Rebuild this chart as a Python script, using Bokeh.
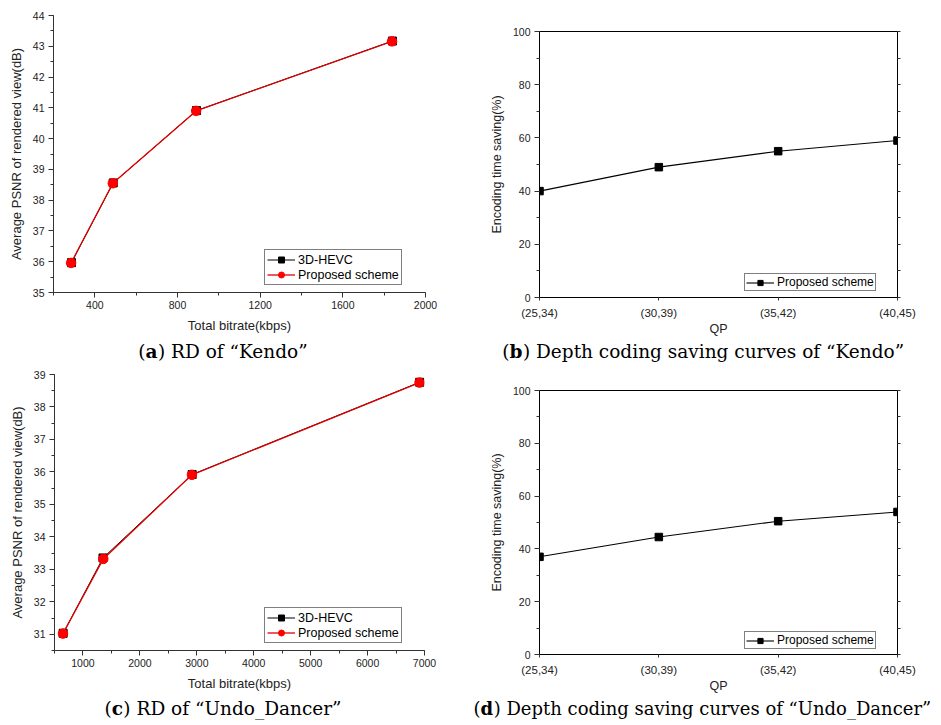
from bokeh.plotting import figure
from bokeh.layouts import column, row
from bokeh.models import (Range1d, SingleIntervalTicker, FixedTicker, LinearAxis,
                          Legend, CustomJSTickFormatter)
from bokeh.core.properties import value
from bokeh.embed import file_html
from bokeh.resources import INLINE

# ---- data -------------------------------------------------------------
# RD curves, "Kendo"
kendo_rate_hevc = [287, 489, 892, 1840]
kendo_psnr_hevc = [35.97, 38.56, 40.91, 43.17]
kendo_rate_prop = [285, 487, 890, 1838]
kendo_psnr_prop = [35.96, 38.55, 40.90, 43.16]

# RD curves, "Undo_Dancer"
undo_rate_hevc = [652, 1352, 2918, 6915]
undo_psnr_hevc = [31.03, 33.35, 35.92, 38.76]
undo_rate_prop = [649, 1357, 2914, 6912]
undo_psnr_prop = [31.02, 33.32, 35.91, 38.75]

# depth coding time saving (%)
qp_pairs = ["(25,34)", "(30,39)", "(35,42)", "(40,45)"]
kendo_saving = [40, 49, 55, 59]
undo_saving = [37, 44.5, 50.5, 54]

SANS = "Liberation Sans"
SERIF = "DejaVu Serif"
AXIS_COLOR = "#333333"
TEXT_COLOR = "#222222"


def base_axes(p, label_size):
    for ax in p.xaxis + p.yaxis:
        ax.axis_line_color = AXIS_COLOR
        ax.major_tick_line_color = AXIS_COLOR
        ax.minor_tick_line_color = AXIS_COLOR
        ax.major_tick_out = 5
        ax.major_tick_in = 0
        ax.minor_tick_out = 3
        ax.minor_tick_in = 0
        ax.major_label_text_font = SANS
        ax.major_label_text_font_size = "10.5px"
        ax.major_label_text_color = TEXT_COLOR
        ax.major_label_standoff = 4
        ax.axis_label_text_font = SANS
        ax.axis_label_text_font_size = label_size
        ax.axis_label_text_font_style = "normal"
        ax.axis_label_text_color = TEXT_COLOR
        ax.axis_label_standoff = 6


def legend_style(lg, font_size, row_h):
    lg.border_line_color = "black"
    lg.border_line_width = 1
    lg.background_fill_alpha = 1
    lg.label_text_font = SANS
    lg.label_text_font_size = font_size
    lg.label_text_color = "black"
    lg.label_height = row_h
    lg.glyph_height = row_h
    lg.glyph_width = 28
    lg.label_standoff = 3
    lg.spacing = 0
    lg.padding = 2
    lg.margin = 0


def rd_figure(w, h, borders, xr, yr, xint, yint,
              rate_h, psnr_h, rate_p, psnr_p, legend_loc):
    left, right, top, bottom = borders
    p = figure(width=w, height=h, x_range=Range1d(*xr), y_range=Range1d(*yr),
               output_backend="svg", toolbar_location=None,
               min_border_left=left, min_border_right=right,
               min_border_top=top, min_border_bottom=bottom)
    p.outline_line_color = None
    p.grid.visible = False
    p.xaxis.ticker = SingleIntervalTicker(interval=xint, num_minor_ticks=2)
    p.yaxis.ticker = SingleIntervalTicker(interval=yint, num_minor_ticks=2)
    p.xaxis.axis_label = "Total bitrate(kbps)"
    p.yaxis.axis_label = "Average PSNR of rendered view(dB)"
    base_axes(p, "13px")
    p.xaxis.major_label_standoff = 3

    l1 = p.line(rate_h, psnr_h, line_color="black", line_width=1.0)
    m1 = p.scatter(rate_h, psnr_h, marker="square", size=8, color="black")
    l2 = p.line(rate_p, psnr_p, line_color="#e00000", line_width=1.3)
    m2 = p.scatter(rate_p, psnr_p, marker="circle", size=9.5, color="#ff0000")

    lg = Legend(items=[("3D-HEVC", [l1, m1]), ("Proposed scheme", [l2, m2])],
                location=legend_loc)
    legend_style(lg, "12.5px", 15)
    p.add_layout(lg)
    return p


def saving_figure(w, h, borders, values, legend_loc):
    left, right, top, bottom = borders
    p = figure(width=w, height=h, x_range=Range1d(0, 3), y_range=Range1d(0, 100),
               output_backend="svg", toolbar_location=None,
               min_border_left=left, min_border_right=right,
               min_border_top=top, min_border_bottom=bottom)
    p.outline_line_color = "black"
    p.outline_line_width = 1
    p.grid.visible = False
    p.xaxis.ticker = FixedTicker(ticks=list(range(len(qp_pairs))), minor_ticks=[])
    p.xaxis.major_label_overrides = {i: s for i, s in enumerate(qp_pairs)}
    p.yaxis.ticker = SingleIntervalTicker(interval=20, num_minor_ticks=2)
    p.xaxis.axis_label = "QP"
    p.yaxis.axis_label = "Encoding time saving(%)"
    base_axes(p, "12.5px")
    p.xaxis.major_label_text_font_size = "11.5px"
    p.xaxis.major_tick_out = 3
    p.xaxis.major_label_standoff = 6
    p.xaxis.axis_label_standoff = 0
    for ax in p.xaxis + p.yaxis:
        ax.axis_line_color = "black"

    # unlabeled tick marks along the right edge
    rax = LinearAxis(ticker=SingleIntervalTicker(interval=10, num_minor_ticks=0),
                     formatter=CustomJSTickFormatter(code="return ''"))
    rax.axis_line_color = "black"
    rax.major_tick_out = 3
    rax.major_tick_in = 0
    rax.major_tick_line_color = AXIS_COLOR
    rax.minor_tick_line_color = None
    rax.major_label_text_font_size = "1px"
    p.add_layout(rax, "right")

    xs = list(range(len(values)))
    l1 = p.line(xs, values, line_color="black", line_width=1.1)
    m1 = p.scatter(xs, values, marker="square", size=7.5, color="black")
    lg = Legend(items=[("Proposed scheme", [l1, m1])], location=legend_loc)
    legend_style(lg, "12px", 13)
    lg.padding = 1
    p.add_layout(lg)
    return p


def caption(w, h, x0, yc, letter, rest, letter_em, size):
    p = figure(width=w, height=h, x_range=Range1d(0, w), y_range=Range1d(0, h),
               output_backend="svg", toolbar_location=None,
               x_axis_type=None, y_axis_type=None, min_border=0)
    p.outline_line_color = None
    p.grid.visible = False
    common = dict(text_font=value(SERIF), text_font_size=f"{size}px",
                  text_baseline="middle", text_align="left", text_color="black")
    paren_w = 0.39 * size
    letter_w = letter_em * size
    p.text(x=[x0], y=[yc], text=["("], **common)
    p.text(x=[x0 + paren_w], y=[yc], text=[letter], text_font_style="bold", **common)
    p.text(x=[x0 + paren_w + letter_w], y=[yc], text=[rest], **common)
    return p


pa = rd_figure(470, 338, (53, 45, 15, 46), (200, 2000), (35, 44), 400, 1,
               kendo_rate_hevc, kendo_psnr_hevc, kendo_rate_prop, kendo_psnr_prop,
               (211, 7))
pb = saving_figure(471, 338, (69, 44, 31, 41), kendo_saving, (205, 6))
pc = rd_figure(470, 329, (54, 46, 8, 45), (500, 7000), (30.5, 39), 1000, 1,
               undo_rate_hevc, undo_psnr_hevc, undo_rate_prop, undo_psnr_prop,
               (210, 7))
pd = saving_figure(471, 329, (69, 44, 24, 40), undo_saving, (205, 5))

ca = caption(470, 28, 137.7, 15, "a", ") RD of \u201cKendo\u201d", 0.675, 18.5)
cb = caption(471, 28, 31.7, 15, "b", ") Depth coding saving curves of \u201cKendo\u201d", 0.73, 18.5)
cc = caption(470, 30, 104, 17, "c", ") RD of \u201cUndo_Dancer\u201d", 0.63, 18.5)
cd = caption(471, 30, 3, 17, "d", ") Depth coding saving curves of \u201cUndo_Dancer\u201d", 0.73, 18)

# each panel sits in its own column so that its frame keeps its own borders
layout = column(row(column(pa), column(pb)), row(ca, cb),
                row(column(pc), column(pd)), row(cc, cd))

open("out.html", "w").write(file_html(layout, INLINE))
